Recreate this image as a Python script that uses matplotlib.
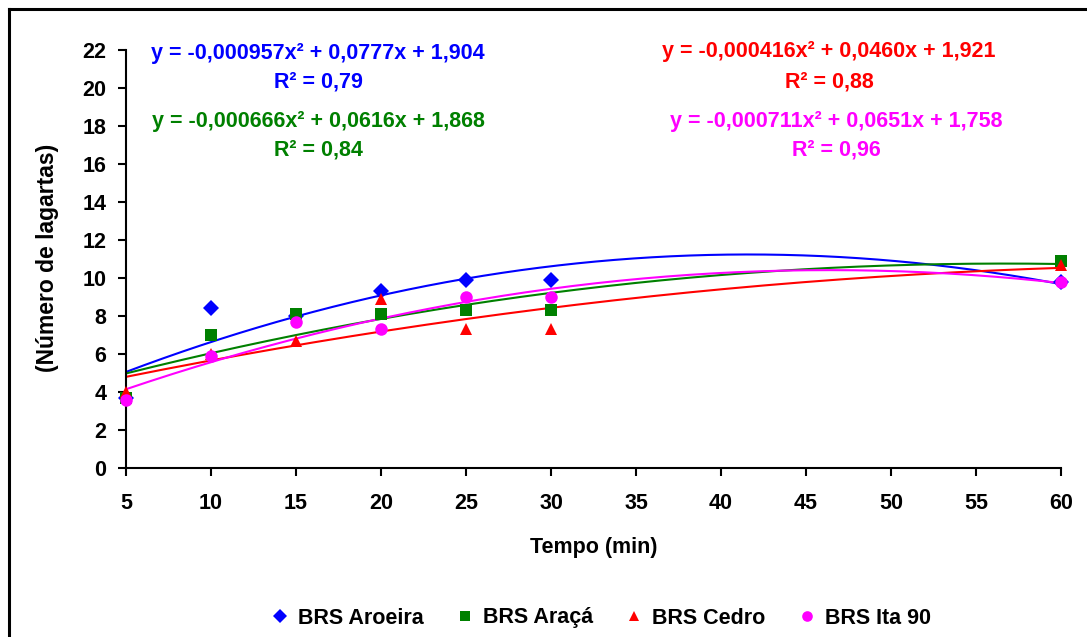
import numpy as np
import matplotlib
matplotlib.use("Agg")
import matplotlib.pyplot as plt
from matplotlib.lines import Line2D

plt.rcParams['font.family'] = ['Liberation Sans', 'DejaVu Sans']
plt.rcParams['font.weight'] = 'bold'

# ---- data ----
tempo = [5, 10, 15, 20, 25, 30, 60]
aroeira = [3.7, 8.4, 8.0, 9.3, 9.9, 9.9, 9.8]
araca = [3.7, 7.0, 8.1, 8.1, 8.3, 8.3, 10.9]
cedro = [4.0, 6.0, 6.7, 8.9, 7.3, 7.3, 10.7]
ita90 = [3.6, 5.9, 7.7, 7.3, 9.0, 9.0, 9.8]

names = ["BRS Aroeira", "BRS Araçá", "BRS Cedro", "BRS Ita 90"]
series = [aroeira, araca, cedro, ita90]
colors = ["#0000FF", "#008000", "#FF0000", "#FF00FF"]
markers = ["D", "s", "^", "o"]
msizes = [8, 8.5, 9, 9]
equations = [
    ("y = -0,000957x² + 0,0777x + 1,904", "R² = 0,79"),
    ("y = -0,000666x² + 0,0616x + 1,868", "R² = 0,84"),
    ("y = -0,000416x² + 0,0460x + 1,921", "R² = 0,88"),
    ("y = -0,000711x² + 0,0651x + 1,758", "R² = 0,96"),
]
# equation label positions (pixel centres)
eq_pos = [(318, 53, 82), (318, 121, 150), (829, 52, 82), (836, 121, 150)]

FS = 15.5
W, H = 1087, 637
fig = plt.figure(figsize=(W / 100, H / 100), dpi=100)
ax = fig.add_axes([126 / W, 1 - 468 / H, (1061 - 126) / W, (468 - 50) / H])

x = np.array(tempo, dtype=float)
xs = np.linspace(5, 60, 200)
for ys, c in zip(series, colors):
    coef = np.polyfit(x, np.array(ys), 2)
    ax.plot(xs, np.polyval(coef, xs), color=c, lw=1.5, zorder=2)

for ys, c, m, ms in zip(series, colors, markers, msizes):
    ax.plot(tempo, ys, linestyle='none', marker=m, color=c, ms=ms,
            markeredgewidth=0, zorder=3, clip_on=False)

ax.set_xlim(5, 60)
ax.set_ylim(0, 22)
ax.set_xticks(np.arange(5, 61, 5))
ax.set_yticks(np.arange(0, 23, 2))
for s in ['top', 'right']:
    ax.spines[s].set_visible(False)
for s in ['left', 'bottom']:
    ax.spines[s].set_linewidth(1.5)
ax.tick_params(axis='both', direction='out', length=6, width=1.5, labelsize=FS)
ax.tick_params(axis='x', pad=12)
ax.tick_params(axis='y', pad=8)
for lab in ax.get_xticklabels() + ax.get_yticklabels():
    lab.set_fontweight('bold')

fig.text(594 / W, 1 - 548 / H, "Tempo (min)", ha='center', va='center',
         fontsize=FS, fontweight='bold')
fig.text(48 / W, 1 - 258 / H, "(Número de lagartas)", ha='center', va='center',
         rotation=90, fontsize=FS + 1, fontweight='bold')

for (eq, r2), (cx, y1, y2), c in zip(equations, eq_pos, colors):
    fig.text(cx / W, 1 - y1 / H, eq, ha='center', va='center', color=c,
             fontsize=FS, fontweight='bold')
    fig.text(cx / W, 1 - y2 / H, r2, ha='center', va='center', color=c,
             fontsize=FS, fontweight='bold')

handles = [Line2D([], [], linestyle='none', marker=m, color=c, ms=ms * 0.85,
                  markeredgewidth=0) for m, c, ms in zip(markers, colors, msizes)]
fig.legend(handles, names, loc='center', bbox_to_anchor=(601 / W, 1 - 618 / H),
           ncol=4, frameon=False, prop={'size': FS, 'weight': 'bold'},
           handlelength=0.8, handletextpad=0.45, columnspacing=1.5)

# outer chart frame (left and top edges visible)
fig.add_artist(Line2D([9 / W, 9 / W], [0, 1 - 9 / H], color='black', lw=2.2,
                      transform=fig.transFigure))
fig.add_artist(Line2D([9 / W, 1], [1 - 9 / H, 1 - 9 / H], color='black', lw=2.2,
                      transform=fig.transFigure))

fig.savefig("out.png", dpi=100)
